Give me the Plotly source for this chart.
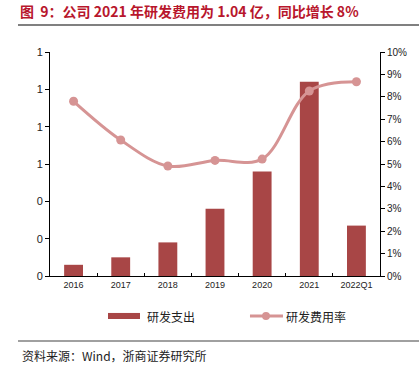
import plotly.graph_objects as go

categories = ["2016", "2017", "2018", "2019", "2020", "2021", "2022Q1"]
rd_expense = [0.06, 0.10, 0.18, 0.36, 0.56, 1.04, 0.27]   # 亿元
rd_ratio = [0.078, 0.0607, 0.0491, 0.0516, 0.0522, 0.0826, 0.0867]

bar_color = "#A84646"
line_color = "#D69494"
title_color = "#B8162C"
font_tick = "Liberation Sans, Arial, sans-serif"
font_cjk = "Noto Sans CJK SC, sans-serif"

fig = go.Figure()
fig.add_trace(go.Bar(x=categories, y=rd_expense, name="研发支出",
                     marker=dict(color=bar_color, line=dict(width=0)),
                     width=0.4, yaxis="y", showlegend=False))
fig.add_trace(go.Scatter(x=categories, y=rd_ratio, name="研发费用率", mode="lines+markers",
                         line=dict(color=line_color, width=3, shape="spline", smoothing=1.0),
                         marker=dict(color=line_color, size=9),
                         yaxis="y2", showlegend=False))

shapes = [
    # title rule
    dict(type="line", xref="paper", yref="paper", x0=-0.097, x1=1.12, y0=1.1205, y1=1.1205,
         line=dict(color="#808080", width=2)),
    # source rule
    dict(type="line", xref="paper", yref="paper", x0=-0.097, x1=1.12, y0=-0.290, y1=-0.290,
         line=dict(color="#808080", width=1.5)),
    # legend swatches
    dict(type="rect", xref="paper", yref="paper", x0=0.1758, x1=0.2727, y0=-0.165, y1=-0.192,
         fillcolor=bar_color, line=dict(width=0)),
    dict(type="line", xref="paper", yref="paper", x0=0.606, x1=0.706, y0=-0.1786, y1=-0.1786,
         line=dict(color=line_color, width=3)),
    dict(type="circle", xref="paper", yref="paper", x0=0.6425, x1=0.6665, y0=-0.1607, y1=-0.1965,
         fillcolor=line_color, line=dict(width=0)),
]

annotations = [
    dict(text="研发支出", xref="paper", yref="paper", x=0.288, y=-0.1786, xanchor="left",
         yanchor="middle", showarrow=False, font=dict(family=font_cjk, size=12, color="#222")),
    dict(text="研发费用率", xref="paper", yref="paper", x=0.7091, y=-0.1786, xanchor="left",
         yanchor="middle", showarrow=False, font=dict(family=font_cjk, size=12, color="#222")),
    dict(text="资料来源：Wind，浙商证券研究所", xref="paper", yref="paper", x=-0.0909, y=-0.353,
         xanchor="left", yanchor="middle", showarrow=False,
         font=dict(family=font_cjk, size=12, color="#222")),
]

fig.update_layout(
    width=419, height=376,
    margin=dict(l=50, r=39, t=52, b=100),
    paper_bgcolor="white", plot_bgcolor="white",
    hovermode=False,
    title=dict(text="<b>图  9：公司 2021 年研发费用为 1.04 亿，同比增长 8%</b>",
               x=20/419, xanchor="left", xref="container",
               y=1-12/376, yanchor="middle", yref="container",
               font=dict(family=font_cjk, size=14, color=title_color)),
    xaxis=dict(type="category", showline=True, linecolor="black", linewidth=1,
               ticks="inside", ticklen=3, tickson="boundaries", tickcolor="black",
               showgrid=False, tickfont=dict(family=font_tick, size=9, color="#222")),
    yaxis=dict(range=[0, 1.2], tickvals=[0, 0.2, 0.4, 0.6, 0.8, 1.0, 1.2], tickformat=".0f",
               showline=True, linecolor="black", linewidth=1, ticks="outside", ticklen=4,
               tickcolor="black", showgrid=False, zeroline=False,
               tickfont=dict(family=font_tick, size=11, color="#222")),
    yaxis2=dict(range=[0, 0.1], dtick=0.01, tickformat=".0%", overlaying="y", side="right",
                showline=True, linecolor="black", linewidth=1, ticks="outside", ticklen=4,
                tickcolor="black", showgrid=False, zeroline=False,
                tickfont=dict(family=font_tick, size=10, color="#222")),
    shapes=shapes,
    annotations=annotations,
)

fig.write_html("out.html", config={"displayModeBar": False, "staticPlot": True},
               post_script="document.body.style.margin='0';document.body.style.padding='0';")
